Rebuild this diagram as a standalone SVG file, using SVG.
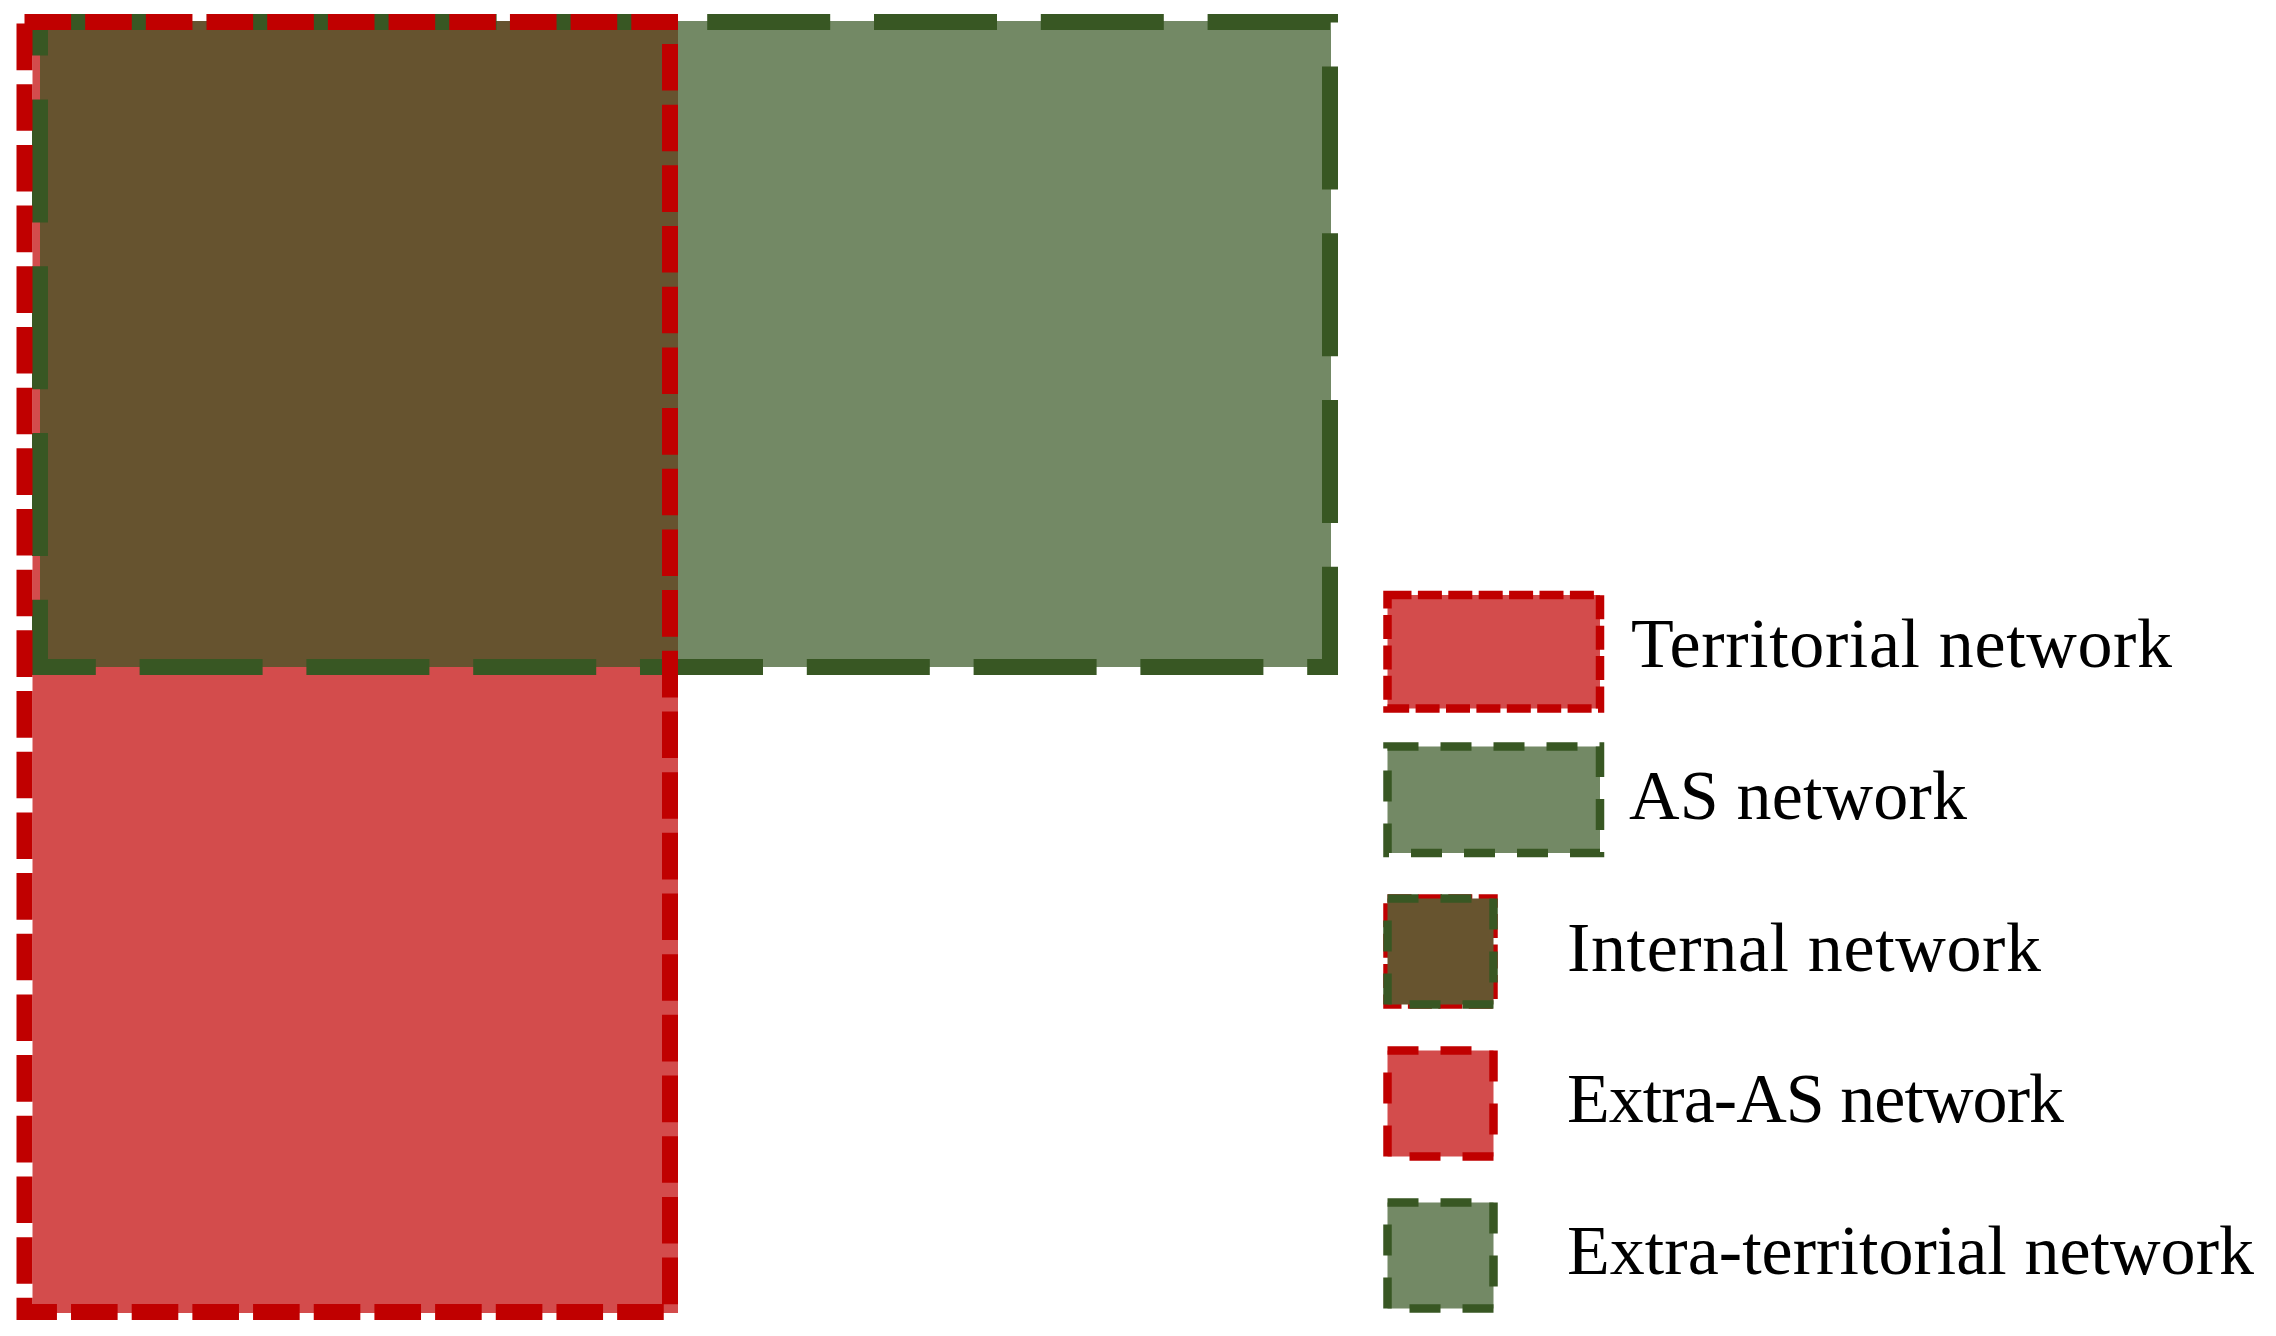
<svg xmlns="http://www.w3.org/2000/svg" width="2276" height="1336" viewBox="0 0 2276 1336">
<style>
.redfill{fill:#C00000;fill-opacity:0.7}
.greenfill{fill:#385723;fill-opacity:0.7}
.redbig{fill:none;stroke:#C00000;stroke-width:16;stroke-dasharray:46.6 14.08;stroke-linecap:butt;stroke-linejoin:miter}
.greenbig{fill:none;stroke:#385723;stroke-width:16;stroke-dasharray:123 43.8;stroke-linecap:butt;stroke-linejoin:miter}
.redsm{stroke:#C00000;stroke-width:8.5;stroke-dasharray:24 6.4;stroke-linejoin:miter}
.redlg{stroke:#C00000;stroke-width:8.5;stroke-dasharray:31 22;stroke-linejoin:miter}
.greenlg{stroke:#385723;stroke-width:8.5;stroke-dasharray:31 22;stroke-linejoin:miter}
.lbl{font-family:"Liberation Serif","Times New Roman",serif;font-size:70px;fill:#000}
</style>
<rect width="2276" height="1336" fill="#fff"/>
<g id="territorial-network">
<rect class="redfill" x="32.5" y="21" width="645.5" height="1292"/>
</g>
<g id="as-network">
<rect class="greenfill" x="40" y="21" width="1291" height="646"/>
<rect class="greenbig" x="40" y="22" width="1290" height="645"/>
</g>
<g id="territorial-border">
<rect class="redbig" x="24.5" y="22" width="645.5" height="1290"/>
</g>
<g id="legend">
<g id="legend-territorial">
<rect class="redfill redsm" x="1387.5" y="595" width="212.5" height="113.5"/>
<text class="lbl" x="1631" y="667" textLength="541" lengthAdjust="spacing">Territorial network</text>
</g>
<g id="legend-as">
<rect class="greenfill greenlg" x="1387.5" y="746.5" width="212.5" height="106.5"/>
<text class="lbl" x="1629" y="819" textLength="338" lengthAdjust="spacing">AS network</text>
</g>
<g id="legend-internal">
<rect class="redsm" fill="none" x="1387.5" y="898.5" width="106" height="106"/>
<rect fill="#67542F" x="1387.5" y="898.5" width="106" height="106"/>
<rect class="greenlg" fill="none" x="1387.5" y="898.5" width="106" height="106"/>
<text class="lbl" x="1567" y="971" textLength="474" lengthAdjust="spacing">Internal network</text>
</g>
<g id="legend-extra-as">
<rect class="redfill redlg" x="1387.5" y="1050.5" width="106" height="106"/>
<text class="lbl" x="1567" y="1122" textLength="497" lengthAdjust="spacing">Extra-AS network</text>
</g>
<g id="legend-extra-territorial">
<rect class="greenfill greenlg" x="1387.5" y="1202.5" width="106" height="106"/>
<text class="lbl" x="1567" y="1274" textLength="687" lengthAdjust="spacing">Extra-territorial network</text>
</g>
</g>
</svg>
